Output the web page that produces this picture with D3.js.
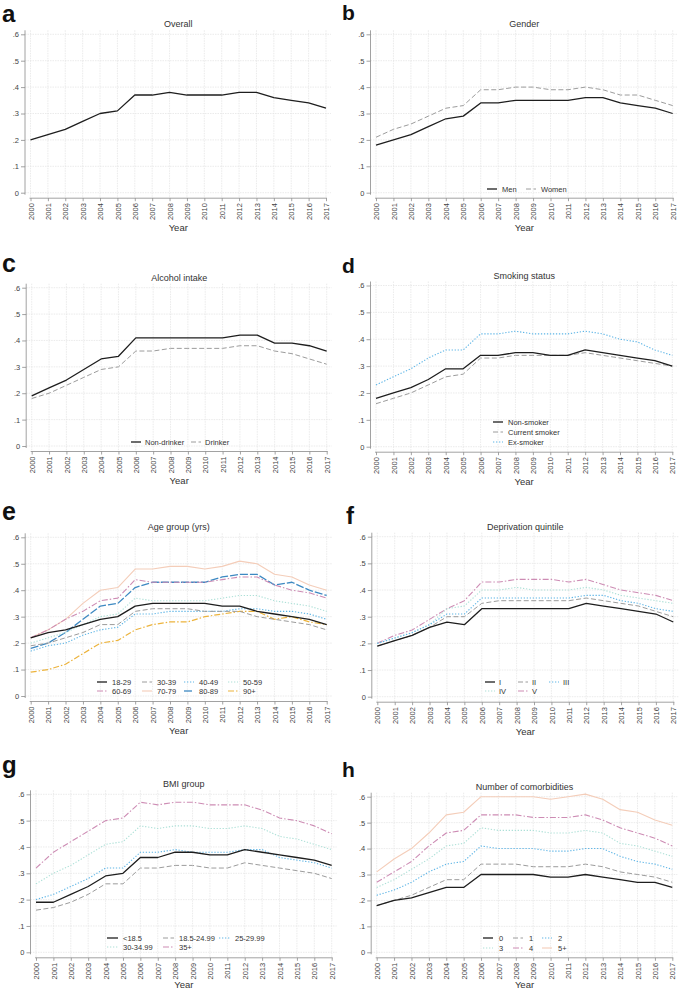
<!DOCTYPE html>
<html><head><meta charset="utf-8">
<script src="https://cdn.jsdelivr.net/npm/d3@7"></script>
<style>
body{margin:0;background:#fff}
svg{display:block}
text{font-family:"Liberation Sans",Arial,Helvetica,sans-serif}
</style>
</head><body>
<svg id="chart" width="680" height="991"></svg>
<script>
// ---------------- DATA ----------------
const years = [2000,2001,2002,2003,2004,2005,2006,2007,2008,2009,2010,2011,2012,2013,2014,2015,2016,2017];
const yTicks = [0,0.1,0.2,0.3,0.4,0.5,0.6];
const yTickLabels = ["0",".1",".2",".3",".4",".5",".6"];
const xTickLabels = ["2000","2001","2002","2003","2004","2005","2006","2007","2008","2009","2010","2011","2012","2013","2014","2015","2016","2017"];

// a. Overall
const overall = [.20,.22,.24,.27,.30,.31,.37,.37,.38,.37,.37,.37,.38,.38,.36,.35,.34,.32];
// b. Gender
const genderNames = ["Men","Women"];
const men   = [.18,.20,.22,.25,.28,.29,.34,.34,.35,.35,.35,.35,.36,.36,.34,.33,.32,.30];
const women = [.21,.24,.26,.29,.32,.33,.39,.39,.40,.40,.39,.39,.40,.39,.37,.37,.35,.33];
// c. Alcohol intake
const alcoholNames = ["Non-drinker","Drinker"];
const nonDrinker = [.19,.22,.25,.29,.33,.34,.41,.41,.41,.41,.41,.41,.42,.42,.39,.39,.38,.36];
const drinker    = [.18,.20,.23,.26,.29,.30,.36,.36,.37,.37,.37,.37,.38,.38,.36,.35,.33,.31];
// d. Smoking status
const smokingNames = ["Non-smoker","Current smoker","Ex-smoker"];
const nonSmoker     = [.18,.20,.22,.25,.29,.29,.34,.34,.35,.35,.34,.34,.36,.35,.34,.33,.32,.30];
const currentSmoker = [.16,.18,.20,.23,.26,.27,.33,.33,.34,.34,.34,.34,.35,.34,.33,.32,.31,.30];
const exSmoker      = [.23,.26,.29,.33,.36,.36,.42,.42,.43,.42,.42,.42,.43,.42,.40,.39,.36,.34];
// e. Age group
const ageNames = ["18-29","30-39","40-49","50-59","60-69","70-79","80-89","90+"];
const age18_29 = [.22,.24,.25,.27,.29,.30,.34,.35,.35,.35,.35,.34,.34,.32,.31,.30,.29,.27];
const age30_39 = [.19,.20,.22,.24,.27,.27,.32,.33,.33,.33,.32,.32,.32,.30,.29,.28,.27,.25];
const age40_49 = [.17,.19,.20,.23,.25,.26,.31,.31,.32,.32,.32,.32,.33,.33,.32,.32,.31,.29];
const age50_59 = [.20,.22,.24,.27,.30,.31,.37,.36,.36,.36,.36,.37,.38,.38,.36,.35,.34,.32];
const age60_69 = [.22,.25,.29,.32,.36,.37,.44,.43,.43,.43,.43,.44,.45,.45,.42,.40,.39,.37];
const age70_79 = [.22,.25,.29,.35,.40,.41,.48,.48,.49,.49,.48,.49,.51,.50,.46,.45,.42,.40];
const age80_89 = [.18,.20,.24,.29,.34,.35,.41,.43,.43,.43,.43,.45,.46,.46,.42,.43,.40,.38];
const age90p   = [.09,.10,.12,.16,.20,.21,.25,.27,.28,.28,.30,.31,.32,.32,.29,.30,.28,.27];
// f. Deprivation quintile
const deprivNames = ["I","II","III","IV","V"];
const depI   = [.19,.21,.23,.26,.28,.27,.33,.33,.33,.33,.33,.33,.35,.34,.33,.32,.31,.28];
const depII  = [.19,.21,.23,.26,.30,.30,.35,.36,.36,.36,.36,.36,.37,.36,.35,.34,.32,.30];
const depIII = [.20,.22,.24,.27,.31,.31,.37,.37,.37,.37,.37,.37,.38,.38,.36,.35,.33,.32];
const depIV  = [.20,.22,.24,.27,.33,.34,.40,.40,.41,.40,.40,.40,.41,.40,.38,.37,.36,.35];
const depV   = [.20,.23,.25,.29,.33,.36,.43,.43,.44,.44,.44,.43,.44,.42,.40,.39,.38,.36];
// g. BMI group
const bmiNames = ["<18.5","18.5-24.99","25-29.99","30-34.99","35+"];
const bmiU185  = [.19,.19,.22,.25,.29,.30,.36,.36,.38,.38,.37,.37,.39,.38,.37,.36,.35,.33];
const bmi185   = [.16,.17,.19,.22,.26,.26,.32,.32,.33,.33,.32,.32,.34,.33,.32,.31,.30,.28];
const bmi25    = [.20,.22,.25,.28,.32,.32,.38,.38,.39,.38,.38,.38,.39,.39,.36,.35,.34,.32];
const bmi30    = [.26,.30,.33,.37,.41,.42,.48,.47,.48,.48,.47,.47,.48,.47,.44,.43,.41,.39];
const bmi35    = [.32,.38,.42,.46,.50,.51,.57,.56,.57,.57,.56,.56,.56,.54,.51,.50,.48,.45];
// h. Number of comorbidities
const comorbNames = ["0","1","2","3","4","5+"];
const comorb0 = [.18,.20,.21,.23,.25,.25,.30,.30,.30,.30,.29,.29,.30,.29,.28,.27,.27,.25];
const comorb1 = [.18,.20,.22,.25,.28,.28,.34,.34,.34,.33,.33,.33,.34,.33,.31,.30,.29,.27];
const comorb2 = [.22,.24,.27,.31,.34,.35,.41,.40,.40,.40,.39,.39,.40,.40,.37,.35,.34,.32];
const comorb3 = [.25,.28,.32,.36,.41,.42,.48,.47,.47,.47,.46,.46,.47,.46,.42,.41,.39,.37];
const comorb4 = [.27,.31,.35,.41,.46,.47,.53,.53,.53,.52,.52,.52,.53,.51,.48,.46,.44,.41];
const comorb5 = [.31,.36,.40,.46,.53,.54,.60,.60,.60,.60,.59,.60,.61,.59,.55,.54,.51,.49];

// ---------------- STYLES ----------------
const ST = {
  black:  {color:"#1e1e1e", width:1.3, dash:null},
  gray:   {color:"#9c9c9c", width:1.0, dash:"5,2.5"},
  sky:    {color:"#5eb5e6", width:1.1, dash:"1.3,1.7"},
  turq:   {color:"#ade0d7", width:1.1, dash:"1.3,1.7"},
  reddish:{color:"#cd8cb4", width:1.1, dash:"6,2,1.5,2"},
  peach:  {color:"#f4cdb9", width:1.1, dash:null},
  sea:    {color:"#3d89c2", width:1.3, dash:"8,2"},
  orange: {color:"#ecb33c", width:1.2, dash:"6,2,1.5,2"}
};

// ---------------- LAYOUT ----------------
const panels = [
  {letter:"a", lsize:24, lx:2, ly:21.5, title:"Overall", x0:30.5, x1:326, yt:34.3, yb:192.7, yearDy:35,
   series:[{v:overall, s:ST.black}], legend:null},
  {letter:"b", lsize:21, lx:342, ly:20, title:"Gender", x0:376, x1:672.7, yt:34.3, yb:192.7, yearDy:35,
   series:[{v:men, s:ST.black, n:genderNames[0]},{v:women, s:ST.gray, n:genderNames[1]}],
   legend:{cols:[487,526], rows:[189], len:10, tdx:15}},
  {letter:"c", lsize:25, lx:2, ly:271.5, title:"Alcohol intake", x0:31.7, x1:326.7, yt:287.7, yb:446, yearDy:35,
   series:[{v:nonDrinker, s:ST.black, n:alcoholNames[0]},{v:drinker, s:ST.gray, n:alcoholNames[1]}],
   legend:{cols:[131,191], rows:[442], len:10, tdx:14}},
  {letter:"d", lsize:21, lx:342, ly:272.5, title:"Smoking status", x0:376, x1:672.3, yt:285.5, yb:446.7, yearDy:35,
   series:[{v:nonSmoker, s:ST.black, n:smokingNames[0]},{v:currentSmoker, s:ST.gray, n:smokingNames[1]},{v:exSmoker, s:ST.sky, n:smokingNames[2]}],
   legend:{cols:[493], rows:[422,432,442], len:10, tdx:15}},
  {letter:"e", lsize:25, lx:2, ly:520, title:"Age group (yrs)", x0:30.7, x1:326.7, yt:537.3, yb:696, yearDy:35,
   series:[{v:age18_29,s:ST.black,n:ageNames[0]},{v:age30_39,s:ST.gray,n:ageNames[1]},{v:age40_49,s:ST.sky,n:ageNames[2]},{v:age50_59,s:ST.turq,n:ageNames[3]},
           {v:age60_69,s:ST.reddish,n:ageNames[4]},{v:age70_79,s:ST.peach,n:ageNames[5]},{v:age80_89,s:ST.sea,n:ageNames[6]},{v:age90p,s:ST.orange,n:ageNames[7]}],
   legend:{cols:[97,142,184,228], rows:[682,691], len:10, tdx:15}},
  {letter:"f", lsize:24, lx:346, ly:524, title:"Deprivation quintile", x0:377.3, x1:673.3, yt:536.7, yb:696.7, yearDy:35,
   series:[{v:depI,s:ST.black,n:deprivNames[0]},{v:depII,s:ST.gray,n:deprivNames[1]},{v:depIII,s:ST.sky,n:deprivNames[2]},{v:depIV,s:ST.turq,n:deprivNames[3]},{v:depV,s:ST.reddish,n:deprivNames[4]}],
   legend:{cols:[485,518,549], rows:[682,691], len:10, tdx:14}},
  {letter:"g", lsize:24, lx:2, ly:773, title:"BMI group", x0:36, x1:331.7, yt:794.3, yb:952.3, yearDy:32,
   series:[{v:bmiU185,s:ST.black,n:bmiNames[0]},{v:bmi185,s:ST.gray,n:bmiNames[1]},{v:bmi25,s:ST.sky,n:bmiNames[2]},{v:bmi30,s:ST.turq,n:bmiNames[3]},{v:bmi35,s:ST.reddish,n:bmiNames[4]}],
   legend:{cols:[107,163,219], rows:[938,947], len:11, tdx:16}},
  {letter:"h", lsize:21, lx:342, ly:776.5, title:"Number of comorbidities", x0:376.7, x1:672.3, yt:796.7, yb:952.3, yearDy:32,
   series:[{v:comorb0,s:ST.black,n:comorbNames[0]},{v:comorb1,s:ST.gray,n:comorbNames[1]},{v:comorb2,s:ST.sky,n:comorbNames[2]},{v:comorb3,s:ST.turq,n:comorbNames[3]},{v:comorb4,s:ST.reddish,n:comorbNames[4]},{v:comorb5,s:ST.peach,n:comorbNames[5]}],
   legend:{cols:[483,513,542], rows:[938,948], len:10, tdx:16}}
];

// ---------------- DRAW ----------------
const svg = d3.select("#chart");
svg.append("rect").attr("width",680).attr("height",991).attr("fill","#fff");

panels.forEach(p => {
  const g = svg.append("g");
  const x = d3.scaleLinear().domain([years[0], years[years.length-1]]).range([p.x0, p.x1]);
  const y = d3.scaleLinear().domain([0, 0.6]).range([p.yb, p.yt]);
  const axX = p.x0 - 5.5, axY = p.yb + 5.5;

  // gridlines
  const grid = g.append("g").attr("stroke","#e3e3e3").attr("stroke-width",0.7).attr("stroke-dasharray","1.5,1");
  grid.selectAll("line.v").data(years).join("line").attr("class","v")
    .attr("x1",d=>x(d)).attr("x2",d=>x(d)).attr("y1",p.yt-4).attr("y2",axY);
  grid.selectAll("line.h").data(yTicks).join("line").attr("class","h")
    .attr("x1",axX).attr("x2",p.x1+5).attr("y1",d=>y(d)).attr("y2",d=>y(d));

  // y axis
  const ya = g.append("g").attr("transform",`translate(${axX},0)`)
    .call(d3.axisLeft(y).tickValues(yTicks).tickFormat((d,i)=>yTickLabels[i]).tickSize(4).tickSizeOuter(0).tickPadding(2));
  ya.select(".domain").remove();
  ya.append("line").attr("x1",0).attr("x2",0).attr("y1",p.yt-4).attr("y2",p.yb+2).attr("stroke","#8a8a8a").attr("stroke-width",0.8);
  ya.selectAll(".tick line").attr("stroke","#8a8a8a").attr("stroke-width",0.8);
  ya.selectAll(".tick text").attr("font-size",7.5).attr("fill","#444").attr("font-family","'Liberation Sans',Arial,sans-serif");

  // x axis
  const xa = g.append("g").attr("transform",`translate(0,${axY})`)
    .call(d3.axisBottom(x).tickValues(years).tickFormat((d,i)=>xTickLabels[i]).tickSize(3).tickSizeOuter(0));
  xa.select(".domain").remove();
  xa.append("line").attr("x1",p.x0-1).attr("x2",p.x1+1).attr("y1",0).attr("y2",0).attr("stroke","#8a8a8a").attr("stroke-width",0.8);
  xa.selectAll(".tick line").attr("stroke","#8a8a8a").attr("stroke-width",0.8);
  xa.selectAll(".tick text").attr("font-size",7.5).attr("fill","#444").attr("font-family","'Liberation Sans',Arial,sans-serif")
    .attr("transform","rotate(-90)").attr("text-anchor","end").attr("x",-5).attr("y",0).attr("dy","0.35em");

  // axis title
  g.append("text").attr("x",(p.x0+p.x1)/2).attr("y",p.yb+p.yearDy).attr("dy","0.35em").attr("text-anchor","middle")
    .attr("font-size",9.5).attr("fill","#333").text("Year");

  // panel title
  g.append("text").attr("x",(p.x0+p.x1)/2).attr("y",p.yt-10).attr("dy","0.35em").attr("text-anchor","middle")
    .attr("font-size",9).attr("fill","#333").text(p.title);

  // panel letter
  g.append("text").attr("x",p.lx).attr("y",p.ly).attr("font-size",p.lsize).attr("font-weight","bold").attr("fill","#111").text(p.letter);

  // lines (draw reverse so first series on top)
  const line = d3.line().x((d,i)=>x(years[i])).y(d=>y(d));
  p.series.slice().reverse().forEach(sr => {
    g.append("path").attr("d",line(sr.v)).attr("fill","none")
      .attr("stroke",sr.s.color).attr("stroke-width",sr.s.width)
      .attr("stroke-dasharray",sr.s.dash).attr("stroke-linejoin","round");
  });

  // legend
  if (p.legend) {
    const L = p.legend, nc = L.cols.length;
    p.series.forEach((sr,i) => {
      const cx = L.cols[i % nc], cy = L.rows[Math.floor(i / nc)];
      g.append("line").attr("x1",cx).attr("x2",cx+L.len).attr("y1",cy).attr("y2",cy)
        .attr("stroke",sr.s.color).attr("stroke-width",sr.s.width).attr("stroke-dasharray",sr.s.dash);
      g.append("text").attr("x",cx+L.tdx).attr("y",cy).attr("dy","0.35em").attr("font-size",7.5).attr("fill","#333").text(sr.n);
    });
  }
});
</script>
</body></html>
